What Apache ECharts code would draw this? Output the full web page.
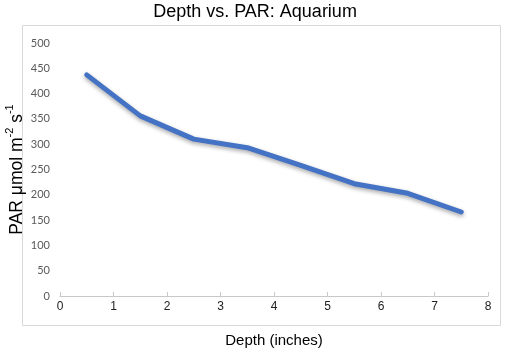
<!DOCTYPE html>
<html><head><meta charset="utf-8">
<script src="https://cdn.jsdelivr.net/npm/echarts@6/dist/echarts.min.js"></script>
<style>html,body{margin:0;padding:0;background:#fff}#c{width:510px;height:350px}</style>
</head><body><div id="c"></div>
<script>
const depths = [0.5, 1.5, 2.5, 3.5, 4.5, 5.5, 6.5, 7.5];
const par = [437, 356, 310, 293, 258, 222, 203, 166];
const chart = echarts.init(document.getElementById('c'));
chart.setOption({
  animation: false,
  backgroundColor: '#fff',
  title: {
    text: 'Depth vs. PAR: Aquarium', left: 'center', top: -2,
    textStyle: { fontFamily: 'Liberation Sans', fontSize: 18, fontWeight: 'normal', color: '#000' }
  },
  graphic: [{
    type: 'rect', shape: { x: 22.5, y: 25.5, width: 478, height: 300 },
    style: { fill: 'none', stroke: '#d9d9d9', lineWidth: 1 }, z: -1
  }],
  grid: { left: 60, right: 22, top: 43, bottom: 54, outerBoundsMode: 'none', containLabel: false },
  xAxis: {
    type: 'value', min: 0, max: 8, interval: 1,
    name: 'Depth (inches)', nameLocation: 'middle', nameGap: 37,
    nameTextStyle: { fontFamily: 'Liberation Sans', fontSize: 15, color: '#000' },
    axisLine: { show: true, lineStyle: { color: '#c8c8c8' } },
    axisTick: { show: true, length: 4, inside: true, lineStyle: { color: '#c8c8c8' } },
    axisLabel: { fontFamily: 'Liberation Sans', fontSize: 12, color: '#222', margin: 5 },
    splitLine: { show: false }
  },
  yAxis: {
    type: 'value', min: 0, max: 500, interval: 50,
    name: '{n|PAR μmol m}{s|-2}{n| s}{s|-1}', nameLocation: 'middle', nameGap: 34, nameRotate: 90,
    nameMoveOverlap: false,
    nameTextStyle: {
      rich: {
        n: { fontFamily: 'Liberation Sans', fontSize: 17.5, color: '#000', lineHeight: 22, verticalAlign: 'bottom' },
        s: { fontFamily: 'Liberation Sans', fontSize: 11, color: '#000', lineHeight: 22, verticalAlign: 'top', padding: [0,0,8,0] }
      }
    },
    axisLine: { show: false },
    axisTick: { show: false },
    axisLabel: { fontFamily: 'Lato', fontSize: 11, color: '#595959', margin: 10 },
    splitLine: { show: false }
  },
  series: [{
    type: 'line', data: depths.map((d, i) => [d, par[i]]),
    showSymbol: false, symbol: 'none',
    lineStyle: { color: '#4472C4', width: 5, cap: 'round', join: 'round',
      shadowColor: 'rgba(0,0,0,0.35)', shadowBlur: 4, shadowOffsetY: 2 }
  }]
});
</script></body></html>
